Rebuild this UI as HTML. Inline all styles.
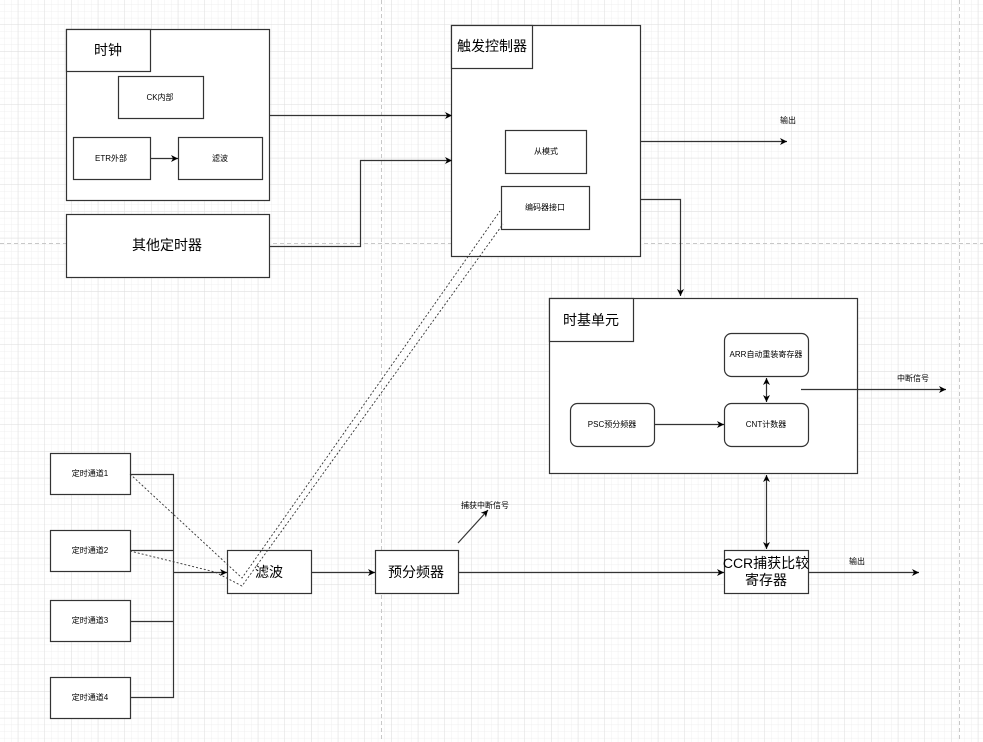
<!DOCTYPE html>
<html><head><meta charset="utf-8"><style>
html,body{margin:0;padding:0;background:#fff}
svg{display:block}
text{font-family:"Liberation Sans","Noto Sans CJK SC",sans-serif;fill:#000}
</style></head><body>
<svg width="983" height="742" viewBox="0 0 983 742" xmlns="http://www.w3.org/2000/svg">
<defs>
<pattern id="mi" width="6.667" height="6.667" patternUnits="userSpaceOnUse" x="18.3" y="25">
<path d="M6.667 0V6.667H0" fill="none" stroke="#efefef" stroke-width="1"/></pattern>
<pattern id="ma" width="26.667" height="26.667" patternUnits="userSpaceOnUse" x="18.3" y="25">
<path d="M26.667 0V26.667H0" fill="none" stroke="#dedede" stroke-width="1"/></pattern>
<marker id="a" markerWidth="8" markerHeight="8" refX="7" refY="4" orient="auto" markerUnits="userSpaceOnUse"><path d="M0,0.5 L7,4 L0,7.5 L2,4z" fill="#000"/></marker>
<marker id="s" markerWidth="8" markerHeight="8" refX="1" refY="4" orient="auto" markerUnits="userSpaceOnUse"><path d="M8,0.5 L1,4 L8,7.5 L6,4z" fill="#000"/></marker>
</defs>
<rect width="983" height="742" fill="url(#mi)"/>
<rect width="983" height="742" fill="url(#ma)"/>
<g stroke="#c8c8c8" stroke-dasharray="4,3" stroke-width="1">
<line x1="381.5" y1="0" x2="381.5" y2="742"/><line x1="959.5" y1="0" x2="959.5" y2="742"/><line x1="0" y1="243.5" x2="983" y2="243.5"/>
</g>
<g fill="#fff" stroke="#333" stroke-width="1.2">
<rect x="66.5" y="29.5" width="203" height="171"/>
<rect x="66.5" y="29.5" width="84" height="42"/>
<rect x="118.5" y="76.5" width="85" height="42"/>
<rect x="73.5" y="137.5" width="77" height="42"/>
<rect x="178.5" y="137.5" width="84" height="42"/>
<rect x="66.5" y="214.5" width="203" height="63"/>
<rect x="451.5" y="25.5" width="189" height="231"/>
<rect x="451.5" y="25.5" width="81" height="43"/>
<rect x="505.5" y="130.5" width="81" height="43"/>
<rect x="501.5" y="186.5" width="88" height="43"/>
<rect x="549.5" y="298.5" width="308" height="175"/>
<rect x="549.5" y="298.5" width="84" height="43"/>
<rect x="724.5" y="333.5" width="84" height="43" rx="7"/>
<rect x="724.5" y="403.5" width="84" height="43" rx="7"/>
<rect x="570.5" y="403.5" width="84" height="43" rx="7"/>
<rect x="724.5" y="550.5" width="84" height="43"/>
<rect x="375.5" y="550.5" width="83" height="43"/>
<rect x="227.5" y="550.5" width="84" height="43"/>
<rect x="50.5" y="453.5" width="80" height="41"/>
<rect x="50.5" y="530.5" width="80" height="41"/>
<rect x="50.5" y="600.5" width="80" height="41"/>
<rect x="50.5" y="677.5" width="80" height="41"/>
</g>
<g fill="none" stroke="#333" stroke-width="1.2">
<line x1="150" y1="158.5" x2="178" y2="158.5" marker-end="url(#a)"/>
<line x1="269" y1="115.5" x2="452" y2="115.5" marker-end="url(#a)"/>
<polyline points="269,246.5 360.5,246.5 360.5,160.5 452,160.5" marker-end="url(#a)"/>
<line x1="640" y1="141.5" x2="787" y2="141.5" marker-end="url(#a)"/>
<polyline points="640,199.5 680.5,199.5 680.5,296" marker-end="url(#a)"/>
<line x1="654" y1="424.5" x2="724" y2="424.5" marker-end="url(#a)"/>
<line x1="766.5" y1="378" x2="766.5" y2="402" marker-end="url(#a)" marker-start="url(#s)"/>
<line x1="801" y1="389.5" x2="946" y2="389.5" marker-end="url(#a)"/>
<line x1="766.5" y1="475" x2="766.5" y2="549" marker-end="url(#a)" marker-start="url(#s)"/>
<line x1="808" y1="572.5" x2="919" y2="572.5" marker-end="url(#a)"/>
<line x1="458" y1="572.5" x2="724" y2="572.5" marker-end="url(#a)"/>
<line x1="311" y1="572.5" x2="375" y2="572.5" marker-end="url(#a)"/>
<line x1="458" y1="543" x2="488" y2="510" marker-end="url(#a)"/>
<polyline points="130,474.5 173.5,474.5 173.5,697.5 130,697.5"/>
<line x1="130" y1="550.5" x2="173" y2="550.5"/>
<line x1="130" y1="621.5" x2="173" y2="621.5"/>
<line x1="173" y1="572.5" x2="227" y2="572.5" marker-end="url(#a)"/>
</g>
<g fill="none" stroke="#333" stroke-width="0.9" stroke-dasharray="2,2">
<polyline points="130,474 242,578 500,211"/>
<polyline points="130,551 215,572 242,586 503,224"/>
</g>
<g font-size="14" text-anchor="middle">
<text x="108" y="55">时钟</text>
<text x="167" y="250">其他定时器</text>
<text x="492" y="51">触发控制器</text>
<text x="591" y="325">时基单元</text>
<text x="766" y="568">CCR捕获比较</text>
<text x="766" y="585">寄存器</text>
<text x="416" y="577">预分频器</text>
<text x="269" y="577">滤波</text>
</g>
<g font-size="8" text-anchor="middle">
<text x="160" y="100">CK内部</text>
<text x="111" y="161">ETR外部</text>
<text x="220" y="161">滤波</text>
<text x="546" y="154">从模式</text>
<text x="545" y="210">编码器接口</text>
<text x="788" y="123">输出</text>
<text x="766" y="357">ARR自动重装寄存器</text>
<text x="766" y="427">CNT计数器</text>
<text x="612" y="427">PSC预分频器</text>
<text x="913" y="381">中断信号</text>
<text x="857" y="564">输出</text>
<text x="485" y="508">捕获中断信号</text>
<text x="90" y="476">定时通道1</text>
<text x="90" y="553">定时通道2</text>
<text x="90" y="623">定时通道3</text>
<text x="90" y="700">定时通道4</text>
</g>
</svg>
</body></html>
